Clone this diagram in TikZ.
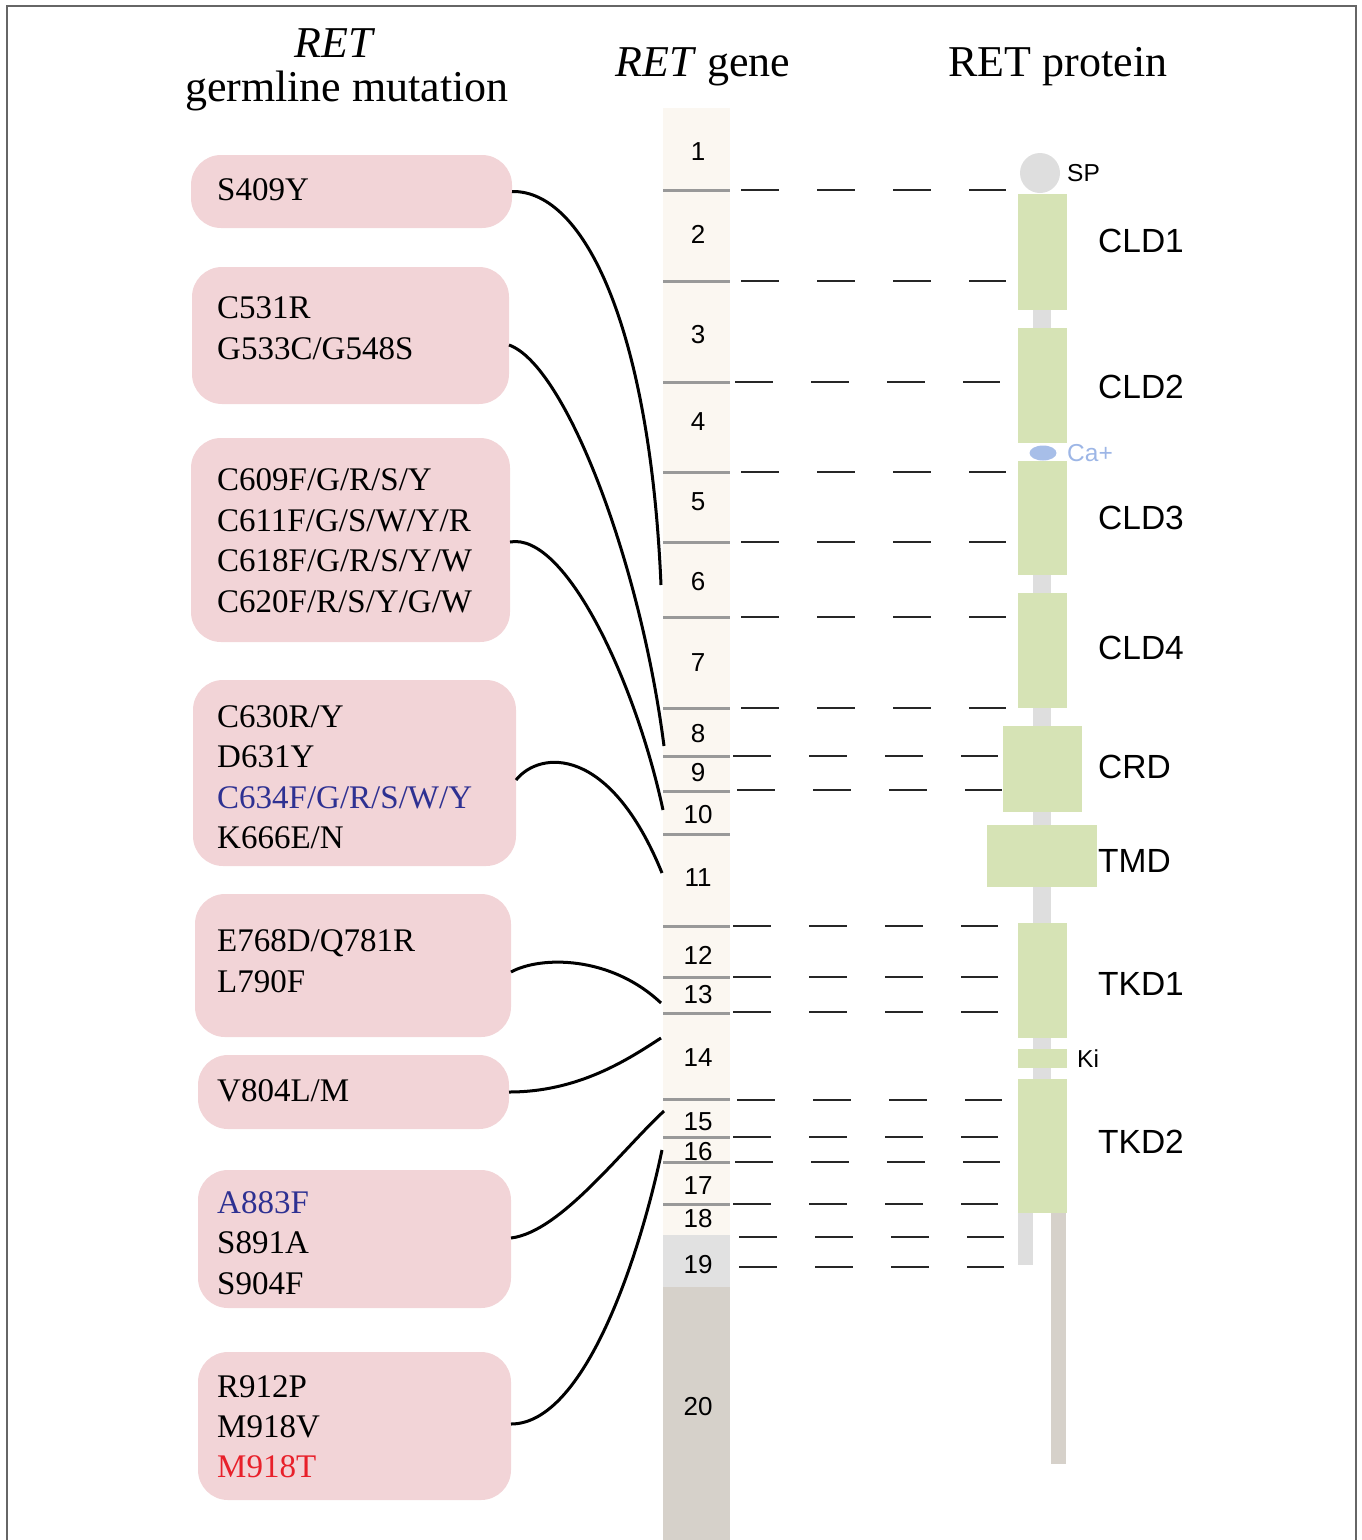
\documentclass[tikz,border=0pt]{standalone}
\usepackage{fontspec}
\setmainfont{Liberation Serif}
\newfontfamily\arialf{Liberation Sans}
\usetikzlibrary{calc,shapes.geometric}
\definecolor{pinkbox}{HTML}{F2D4D7}
\definecolor{exonlight}{HTML}{FBF7F1}
\definecolor{exongray}{HTML}{E1E1E1}
\definecolor{exondark}{HTML}{D6D1CA}
\definecolor{exline}{HTML}{999999}
\definecolor{domgreen}{HTML}{D6E3B5}
\definecolor{linkgray}{HTML}{DEDEDE}
\definecolor{cablue}{HTML}{A7BEE8}
\definecolor{catext}{HTML}{9DB6E6}
\definecolor{mutblue}{HTML}{2E3192}
\definecolor{mutred}{HTML}{E8202A}
\definecolor{framegray}{HTML}{666666}
\begin{document}
\begin{tikzpicture}[x=1pt,y=-1pt,
  frame/.style={draw=framegray,line width=1.5pt},
  hdr/.style={inner sep=0pt,font=\fontsize{44}{50}\selectfont},
  box/.style={fill=pinkbox,rounded corners=30pt,inner sep=0pt,outer sep=0pt},
  mut/.style={anchor=base west,inner sep=0pt,font=\fontsize{33}{40}\selectfont},
  exon/.style={inner sep=0pt,outer sep=0pt,minimum width=67pt},
  exbound/.style={draw=exline,line width=3pt},
  num/.style={inner sep=0pt,font=\arialf\fontsize{26}{30}\selectfont},
  dashrow/.style={draw=black!85,line width=1.4pt,dash pattern=on 37.5pt off 38.5pt},
  dom/.style={fill=domgreen,inner sep=0pt,outer sep=0pt},
  plabel/.style={anchor=west,inner sep=0pt,font=\arialf\fontsize{33.5}{38}\selectfont},
  slabel/.style={anchor=west,inner sep=0pt,font=\arialf\fontsize{24.5}{28}\selectfont},
  conn/.style={draw=black,line width=3pt}]
\useasboundingbox (0,0) rectangle (1362,1540);
\draw[frame] (7,1541) -- (7,6) -- (1356,6) -- (1356,1541);

% headers
\node[hdr,anchor=base] (h1) at (335,57) {\textit{RET}};
\node[hdr,anchor=base] (h2) at (347,101) {germline mutation};
\node[hdr,anchor=base] (h3) at (703,76) {\textit{RET} gene};
\node[hdr,anchor=base] (h4) at (1058,76) {RET protein};

% mutation boxes
\node[box,minimum width=321pt,minimum height=73pt] (b1) at (351.5,191.5) {};
\node[box,minimum width=317pt,minimum height=137pt] (b2) at (350.5,335.5) {};
\node[box,minimum width=319pt,minimum height=204pt] (b3) at (350.5,540) {};
\node[box,minimum width=323pt,minimum height=186pt] (b4) at (354.5,773) {};
\node[box,minimum width=316pt,minimum height=143pt] (b5) at (353,965.5) {};
\node[box,minimum width=311pt,minimum height=74pt] (b6) at (353.5,1092) {};
\node[box,minimum width=313pt,minimum height=138pt] (b7) at (354.5,1239) {};
\node[box,minimum width=313pt,minimum height=148pt] (b8) at (354.5,1426) {};

\node[mut] (t1a) at (217,200) {S409Y};
\node[mut] (t2a) at (217,318) {C531R};
\node[mut] (t2b) at (217,359) {G533C/G548S};
\node[mut] (t3a) at (217,490) {C609F/G/R/S/Y};
\node[mut] (t3b) at (217,531) {C611F/G/S/W/Y/R};
\node[mut] (t3c) at (217,571) {C618F/G/R/S/Y/W};
\node[mut] (t3d) at (217,612) {C620F/R/S/Y/G/W};
\node[mut] (t4a) at (217,727) {C630R/Y};
\node[mut] (t4b) at (217,767) {D631Y};
\node[mut,text=mutblue] (t4c) at (217,808) {C634F/G/R/S/W/Y};
\node[mut] (t4d) at (217,848) {K666E/N};
\node[mut] (t5a) at (217,951) {E768D/Q781R};
\node[mut] (t5b) at (217,992) {L790F};
\node[mut] (t6a) at (217,1101) {V804L/M};
\node[mut,text=mutblue] (t7a) at (217,1213) {A883F};
\node[mut] (t7b) at (217,1253) {S891A};
\node[mut] (t7c) at (217,1294) {S904F};
\node[mut] (t8a) at (217,1397) {R912P};
\node[mut] (t8b) at (217,1437) {M918V};
\node[mut,text=mutred] (t8c) at (217,1477) {M918T};

% gene exons
\foreach \i/\a/\b/\col in {1/108/190/exonlight,2/190/281/exonlight,3/281/382/exonlight,
  4/382/472/exonlight,5/472/542/exonlight,6/542/617/exonlight,7/617/708/exonlight,
  8/708/756/exonlight,9/756/791/exonlight,10/791/834/exonlight,11/834/926/exonlight,
  12/926/977/exonlight,13/977/1013/exonlight,14/1013/1099/exonlight,15/1099/1137/exonlight,
  16/1137/1162/exonlight,17/1162/1204/exonlight,18/1204/1235/exonlight,
  19/1235/1287/exongray,20/1287/1541/exondark}{
  \pgfmathsetmacro\hh{\b-\a}
  \pgfmathsetmacro\cc{(\a+\b)/2}
  \node[exon,fill=\col,minimum height=\hh pt] (e\i) at (696.5,\cc) {};
}
\foreach \i in {1,...,17}{
  \draw[exbound] (e\i.south west) -- (e\i.south east);
}
\foreach \i/\y in {1/152,2/234,3/335,4/422,5/502,6/582,7/663,8/734,9/773,10/815,
  11/878,12/955,13/995,14/1058,15/1122,16/1152,17/1186,18/1219,19/1265,20/1407}{
  \node[num] (n\i) at (698,\y) {\i};
}

% dashed guide rows
\foreach \y/\x in {190/741,281/741,382/735,472/741,542/741,617/741,708/741,756/733,790/737,
  926/733,977/733,1012/733,1100/737,1137/733,1162/735,1204/733,1237/739,1267/739}{
  \draw[dashrow] (\x,\y) -- ++(265,0);
}

% protein
\foreach \a/\b in {310/328,575/593,708/726,812/825,887/923,1038/1049,1068/1079}{
  \fill[linkgray] (1033,\a) rectangle (1051,\b);
}
\fill[linkgray] (1018,1212) rectangle (1033,1265);
\fill[exondark] (1051,1212) rectangle (1066,1464);
\node[circle,fill=linkgray,minimum size=40pt,inner sep=0pt] (sp) at (1040,173) {};
\node[dom,minimum width=49pt,minimum height=116pt] (cld1) at (1042,252) {};
\node[dom,minimum width=49pt,minimum height=115pt] (cld2) at (1042,385.5) {};
\node[ellipse,fill=cablue,minimum width=27pt,minimum height=15pt,inner sep=0pt] (ca) at (1043,453) {};
\node[dom,minimum width=49pt,minimum height=114pt] (cld3) at (1042,518) {};
\node[dom,minimum width=49pt,minimum height=115pt] (cld4) at (1042,650.5) {};
\node[dom,minimum width=79pt,minimum height=86pt] (crd) at (1042.5,769) {};
\node[dom,minimum width=110pt,minimum height=62pt] (tmd) at (1042,856) {};
\node[dom,minimum width=49pt,minimum height=115pt] (tkd1) at (1042,980.5) {};
\node[dom,minimum width=49pt,minimum height=19pt] (ki) at (1042,1058.5) {};
\node[dom,minimum width=49pt,minimum height=134pt] (tkd2) at (1042,1146) {};

\node[slabel] (lsp) at (1067,173) {SP};
\node[slabel,text=catext] (lca) at (1067,453) {Ca+};
\node[slabel] (lki) at (1077,1059) {Ki};
\node[plabel] (lcld1) at (1098,241) {CLD1};
\node[plabel] (lcld2) at (1098,387) {CLD2};
\node[plabel] (lcld3) at (1098,518) {CLD3};
\node[plabel] (lcld4) at (1098,648) {CLD4};
\node[plabel] (lcrd) at (1098,767) {CRD};
\node[plabel] (ltmd) at (1098,861) {TMD};
\node[plabel] (ltkd1) at (1098,984) {TKD1};
\node[plabel] (ltkd2) at (1098,1142) {TKD2};

% connectors
\draw[conn] (b1.east) .. controls (585,190) and (650,330) .. ($(e6.west)+(-2,5.5)$);
\draw[conn] ($(b2.east)+(0,9.5)$) .. controls (565,365) and (640,560) .. ($(e8.west)+(1,14)$);
\draw[conn] ($(b3.east)+(0,2)$) .. controls (565,532) and (635,680) .. ($(e10.west)+(0,-2.5)$);
\draw[conn] ($(b4.east)+(0,7)$) .. controls (540,750) and (610,745) .. ($(e11.west)+(-1,-7)$);
\draw[conn] ($(b5.east)+(0,6.5)$) .. controls (540,956) and (610,955) .. ($(e13.west)+(-2,8)$);
\draw[conn] (b6.east) .. controls (580,1092) and (630,1058) .. ($(e14.west)+(-2,-18)$);
\draw[conn] ($(b7.east)+(0,-1)$) .. controls (560,1232) and (620,1152) .. ($(e15.west)+(1,-7)$);
\draw[conn] ($(b8.east)+(0,-2)$) .. controls (585,1424) and (640,1255) .. ($(e16.west)+(-1,0.5)$);
\end{tikzpicture}
\end{document}
